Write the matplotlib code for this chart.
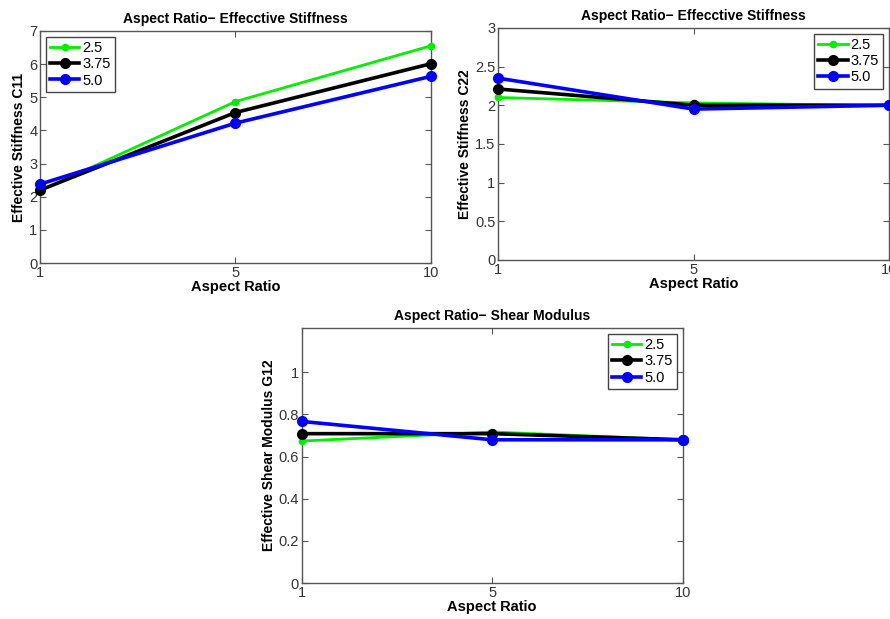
import matplotlib
matplotlib.use("Agg")
import matplotlib.pyplot as plt

plt.rcParams['font.family'] = ['Liberation Sans', 'DejaVu Sans']

x_labels = ['1', '5', '10']
series_names = ['2.5', '3.75', '5.0']
colors = ['#00ee00', 'black', '#0000ff']

c11 = {'2.5': [2.18, 4.87, 6.55], '3.75': [2.20, 4.54, 6.01], '5.0': [2.38, 4.22, 5.63]}
c22 = {'2.5': [2.10, 2.03, 1.995], '3.75': [2.21, 2.00, 2.00], '5.0': [2.35, 1.95, 2.00]}
g12 = {'2.5': [0.674, 0.717, 0.68], '3.75': [0.709, 0.709, 0.68], '5.0': [0.767, 0.68, 0.68]}

fig = plt.figure(figsize=(8.9, 6.19), dpi=100)

def panel(rect, data, title, ylabel, ylim, yticks, yticklabels, legend_loc):
    ax = fig.add_axes(rect)
    xs = list(range(len(x_labels)))
    for name, col in zip(series_names, colors):
        if name == '2.5':
            lw, ms = 2.0, 4.5
        else:
            lw, ms = 2.6, 7
        ax.plot(xs, data[name], color=col, lw=lw, marker='o', ms=ms, label=name, clip_on=False, zorder=3)
    ax.set_xlim(0, 2)
    ax.set_ylim(*ylim)
    ax.set_xticks(xs)
    ax.set_xticklabels(x_labels)
    ax.set_yticks(yticks)
    ax.set_yticklabels(yticklabels)
    ax.tick_params(direction='in', top=True, right=True, length=4, labelsize=10.5,
                   colors='#555555', labelcolor='#333333', pad=2)
    for s in ax.spines.values():
        s.set_color('#555555')
        s.set_linewidth(1.0)
    ax.set_title(title, fontsize=10, fontweight='bold', pad=6)
    ax.set_xlabel('Aspect Ratio', fontsize=10.5, fontweight='bold', labelpad=0)
    ax.set_ylabel(ylabel, fontsize=10, fontweight='bold', labelpad=2)
    leg = ax.legend(loc=legend_loc, fancybox=False, framealpha=1, edgecolor='#444444',
                    fontsize=10.5, handlelength=2.0, handletextpad=0.2, borderpad=0.3,
                    labelspacing=0.15, borderaxespad=0.4)
    leg.get_frame().set_linewidth(1.0)
    return ax

panel([0.045, 0.575, 0.439, 0.375], c11, 'Aspect Ratio\u2212 Effecctive Stiffness',
      'Effective Stiffness C11', (0, 7), list(range(8)), [str(i) for i in range(8)], 'upper left')
panel([0.5596, 0.58, 0.4394, 0.375], c22, 'Aspect Ratio\u2212 Effecctive Stiffness',
      'Effective Stiffness C22', (0, 3), [0, 0.5, 1, 1.5, 2, 2.5, 3],
      ['0', '0.5', '1', '1.5', '2', '2.5', '3'], 'upper right')
panel([0.339, 0.058, 0.428, 0.412], g12, 'Aspect Ratio\u2212 Shear Modulus',
      'Effective Shear Modulus G12', (0, 1.21), [0, 0.2, 0.4, 0.6, 0.8, 1],
      ['0', '0.2', '0.4', '0.6', '0.8', '1'], 'upper right')

fig.savefig('out.png', dpi=100)
